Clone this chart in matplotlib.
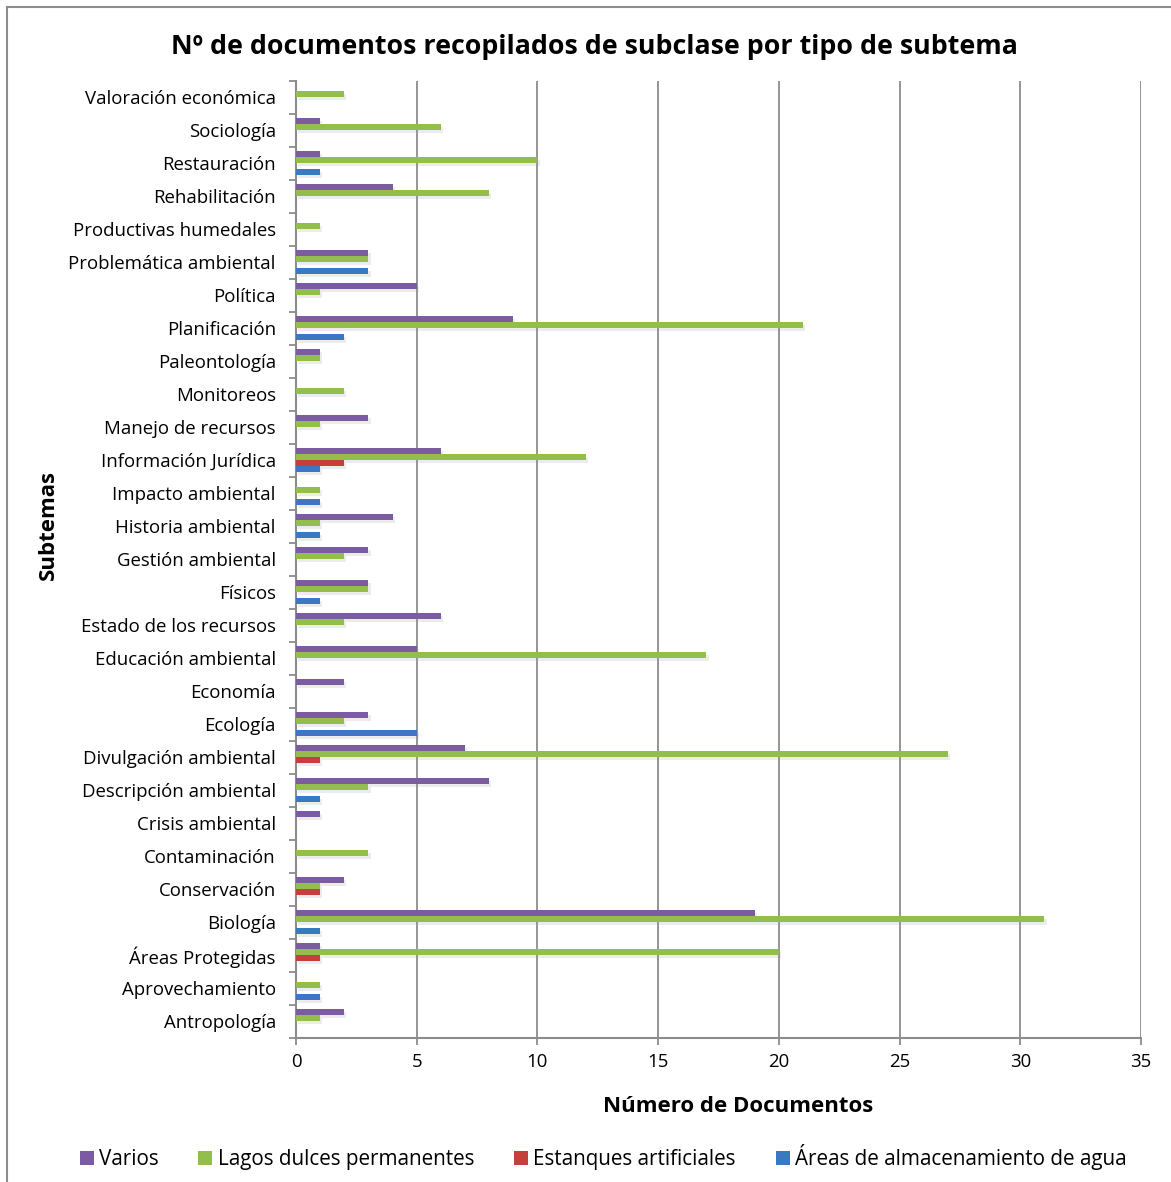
import matplotlib
matplotlib.use("Agg")
import matplotlib.pyplot as plt
import matplotlib.patheffects as pe
from matplotlib.lines import Line2D
from matplotlib.patches import Patch
import numpy as np

plt.rcParams['font.family'] = ['Open Sans', 'DejaVu Sans']

# categorias de abajo hacia arriba
subtemas = ["Antropología", "Aprovechamiento", "Áreas Protegidas", "Biología",
            "Conservación", "Contaminación", "Crisis ambiental", "Descripción ambiental",
            "Divulgación ambiental", "Ecología", "Economía", "Educación ambiental",
            "Estado de los recursos", "Físicos", "Gestión ambiental", "Historia ambiental",
            "Impacto ambiental", "Información Jurídica", "Manejo de recursos", "Monitoreos",
            "Paleontología", "Planificación", "Política", "Problemática ambiental",
            "Productivas humedales", "Rehabilitación", "Restauración", "Sociología",
            "Valoración económica"]

varios = [2, 0, 1, 19, 2, 0, 1, 8, 7, 3, 2, 5, 6, 3, 3, 4, 0, 6, 3, 0, 1, 9, 5, 3, 0, 4, 1, 1, 0]
lagos = [1, 1, 20, 31, 1, 3, 0, 3, 27, 2, 0, 17, 2, 3, 2, 1, 1, 12, 1, 2, 1, 21, 1, 3, 1, 8, 10, 6, 2]
estanques = [0, 0, 1, 0, 1, 0, 0, 0, 1, 0, 0, 0, 0, 0, 0, 0, 0, 2, 0, 0, 0, 0, 0, 0, 0, 0, 0, 0, 0]
areas = [0, 1, 0, 1, 0, 0, 0, 1, 0, 5, 0, 0, 0, 1, 0, 1, 1, 1, 0, 0, 0, 2, 0, 3, 0, 0, 1, 0, 0]

series = ["Varios", "Lagos dulces permanentes", "Estanques artificiales",
          "Áreas de almacenamiento de agua"]
colores = ["#7B5CA3", "#93BE4C", "#C5403D", "#3A78C2"]
datos = [varios, lagos, estanques, areas]

fig = plt.figure(figsize=(11.71, 11.82), dpi=100)
ax = fig.add_axes([296 / 1171, 1 - 1038 / 1182, 845 / 1171, (1038 - 80.5) / 1182])

y = np.arange(len(subtemas))
h = 0.182
sombra = [pe.SimplePatchShadow(offset=(1.5, -2), shadow_rgbFace="#999999", alpha=0.18), pe.Normal()]
for i, (vals, col) in enumerate(zip(datos, colores)):
    desp = (1.5 - i) * h
    barras = ax.barh(y + desp, vals, height=h, color=col, zorder=3)
    for b in barras:
        if b.get_width() > 0:
            b.set_path_effects(sombra)

ax.set_xlim(0, 35)
ax.set_ylim(-0.5, len(subtemas) - 0.5)
ax.set_xticks(np.arange(0, 36, 5))
ax.grid(axis="x", color="#8c8c8c", linewidth=1.3, zorder=0)
ax.set_axisbelow(True)

ax.set_yticks(y)
ax.set_yticklabels(subtemas, fontsize=13.4)
ax.set_yticks(np.arange(-0.5, len(subtemas), 1), minor=True)
ax.tick_params(axis="y", which="major", length=0, pad=14.5)
ax.tick_params(axis="y", which="minor", length=5, color="#8c8c8c", width=1.3)
ax.tick_params(axis="x", labelsize=13.4, length=5, color="#8c8c8c", width=1.3, pad=6)

for s in ["top", "right"]:
    ax.spines[s].set_visible(False)
for s in ["left", "bottom"]:
    ax.spines[s].set_color("#8c8c8c")
    ax.spines[s].set_linewidth(1.5)

fig.text(594 / 1171, 1 - 47 / 1182, "Nº de documentos recopilados de subclase por tipo de subtema",
         ha="center", va="center", fontsize=19.3, fontweight="bold")
fig.text(738 / 1171, 1 - 1107 / 1182, "Número de Documentos",
         ha="center", va="center", fontsize=16, fontweight="bold")
fig.text(48 / 1171, 1 - 525 / 1182, "Subtemas", rotation=90,
         ha="center", va="center", fontsize=16, fontweight="bold")

manejadores = [Patch(facecolor=c) for c in colores]
fig.legend(manejadores, series, loc="center", bbox_to_anchor=(603 / 1171, 1 - 1157 / 1182),
           ncol=4, frameon=False, fontsize=14.9, handlelength=0.68, handleheight=0.68,
           handletextpad=0.25, columnspacing=1.93)

# marco del grafico
fig.add_artist(Line2D([7 / 1171, 7 / 1171], [0, 1 - 7 / 1182], color="#8c8c8c", linewidth=1.5))
fig.add_artist(Line2D([7 / 1171, 1], [1 - 7 / 1182, 1 - 7 / 1182], color="#8c8c8c", linewidth=1.5))

fig.savefig("out.png", dpi=100, facecolor="white")
